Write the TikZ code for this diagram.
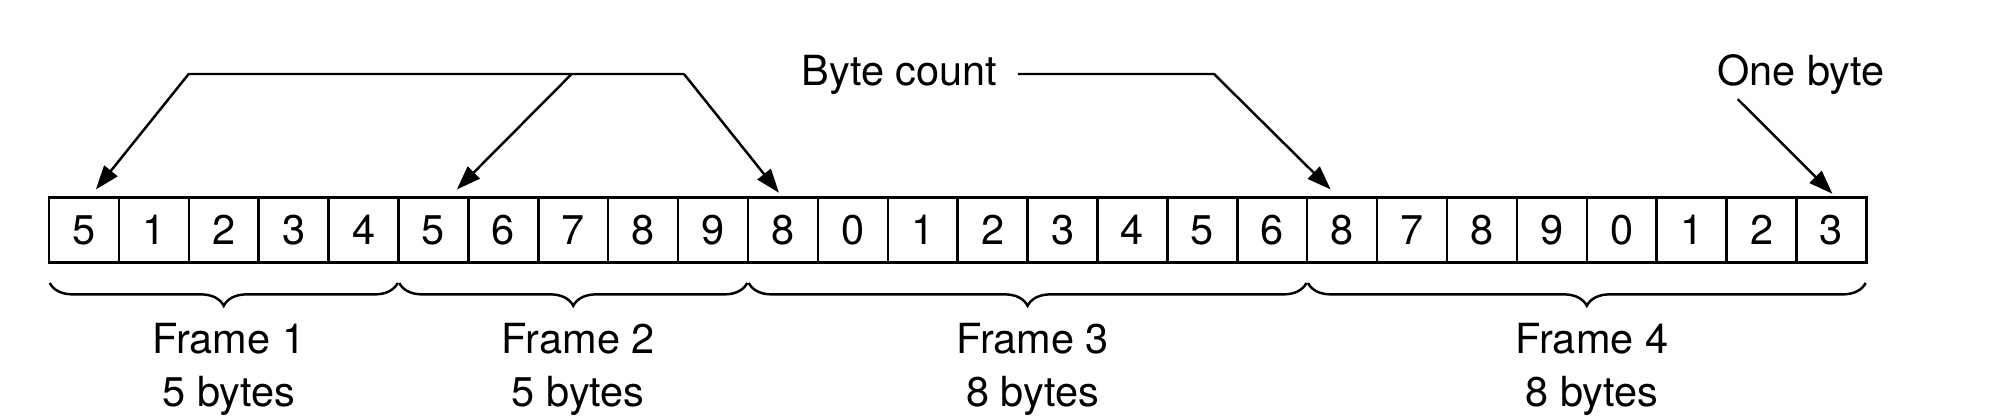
\documentclass[tikz,border=0pt]{standalone}
\usepackage{fontspec}
\setmainfont{TeX Gyre Heros}
\usetikzlibrary{arrows.meta, decorations.pathreplacing}

\tikzset{
  cell/.style={draw, line width=0.7pt, minimum width=0.699cm, minimum height=0.65cm, inner sep=0pt},
  arr/.style={line width=0.7pt, -{Triangle[length=6.8pt, width=4.8pt]}},
  brc/.style={line width=0.7pt, decorate, decoration={brace, mirror, amplitude=6.5pt}},
  frm/.style={anchor=north, xshift=0.05cm, yshift=-0.395cm, align=center, inner sep=0pt},
  lbl/.style={inner sep=0pt, anchor=base}
}

\begin{document}
\begin{tikzpicture}[x=0.01cm, y=-0.01cm, every node/.style={font=\fontsize{11.8}{15}\selectfont}]
  \useasboundingbox (0,0) rectangle (2014,419);
  % the byte stream
  \foreach \v [count=\i] in {5,1,2,3,4,5,6,7,8,9,8,0,1,2,3,4,5,6,8,7,8,9,0,1,2,3}
    \node[cell] (c\i) at ({49+69.9*(\i-0.5)},230.2) {\v};

  % labels
  \node[lbl, inner xsep=0.2cm] (bc) at (899.4,86) {Byte count};
  \node[lbl] (ob) at (1801,86) {One byte};

  % byte count arrows
  \coordinate (tl) at (188.7,74);
  \coordinate (tm) at (571.7,74);
  \coordinate (tr) at (684,74);
  \coordinate (bcc) at (1214,74);
  \draw[arr] (tr) -- (tl) -- ([shift={(12,-7)}]c1.north);
  \draw[arr] (tm) -- ([shift={(23.5,-7)}]c6.north);
  \draw[arr] (tr) -- ([shift={(-4,-3.7)}]c11.north);
  \draw[arr] (bc.east |- bcc) -- (bcc) -- ([shift={(-11.5,-7)}]c19.north);
  \draw[arr] ([shift={(21,3.5)}]ob.south west) -- ([shift={(1,-2.7)}]c26.north);

  % frames
  \draw[brc] ([shift={(2,19)}]c1.south west) -- node[frm] (f1) {Frame 1\\5 bytes} ([shift={(-2,19)}]c5.south east);
  \draw[brc] ([shift={(2,19)}]c6.south west) -- node[frm] (f2) {Frame 2\\5 bytes} ([shift={(-2,19)}]c10.south east);
  \draw[brc] ([shift={(2,19)}]c11.south west) -- node[frm] (f3) {Frame 3\\8 bytes} ([shift={(-2,19)}]c18.south east);
  \draw[brc] ([shift={(2,19)}]c19.south west) -- node[frm] (f4) {Frame 4\\8 bytes} ([shift={(-2,19)}]c26.south east);
\end{tikzpicture}
\end{document}
